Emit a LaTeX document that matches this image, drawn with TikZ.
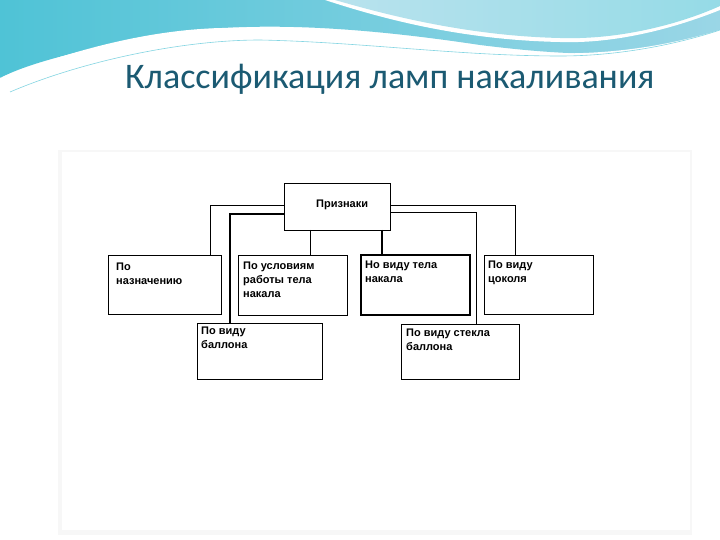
\documentclass[tikz,border=0pt]{standalone}
\usepackage{fontspec}
\setmainfont{Liberation Sans}
\newfontfamily\titlefont{Carlito}
\definecolor{titlec}{HTML}{1B5A72}
\definecolor{waveA}{HTML}{4FC3D6}
\definecolor{waveB}{HTML}{9AD6E6}
\begin{document}
\begin{tikzpicture}[x=1pt,y=-1pt,
  box/.style={draw,line width=0.9pt,fill=white},
  lbl/.style={anchor=north west,font=\bfseries\fontsize{11}{14}\selectfont,align=left,inner sep=0pt},
  link/.style={line width=0.9pt}]
\useasboundingbox (0,0) rectangle (720,540);
\fill[white] (0,0) rectangle (720,540);
\draw[gray!50,line width=1pt] (1,1) rectangle (719,539);
% header waves
\shade[left color=waveA,right color=waveB] (0,0) -- (720,0) -- (720,40) .. controls (640,60) and (560,55) .. (480,45) .. controls (380,30) and (260,18) .. (160,35) .. controls (90,48) and (30,62) .. (0,78) -- cycle;
\fill[white] (325,0) .. controls (380,18) and (460,40) .. (560,42) .. controls (620,44) and (680,26) .. (720,10) -- (720,0) -- cycle;
\shade[left color=waveB!70,right color=waveA!60] (335,0) .. controls (390,16) and (470,36) .. (560,38) .. controls (620,40) and (680,24) .. (720,6) -- (720,0) -- cycle;
\fill[white] (0,78) .. controls (60,55) and (150,26) .. (240,28) .. controls (330,30) and (420,48) .. (540,53) .. controls (620,56) and (680,42) .. (720,30) -- (720,540) -- (0,540) -- cycle;
\draw[waveA!70,line width=0.6pt] (10,92) .. controls (80,62) and (180,40) .. (260,40) .. controls (360,42) and (460,56) .. (560,56) .. controls (630,56) and (690,40) .. (720,30);
\node[anchor=west,text=titlec,font=\titlefont\fontsize{36}{40}\selectfont,inner sep=0pt] (title) at (125,79) {Классификация ламп накаливания};
\fill[gray!6] (58,150) rectangle (692,535);
\fill[white] (62,152) rectangle (690,530);
% boxes
\draw[box] (284,183) rectangle (390,230); \node[lbl] (p) at (316,200) {Признаки};
\draw[box] (108,255) rectangle (221,314); \node[lbl] (a) at (116,263) {По\\назначению};
\draw[box] (238,255) rectangle (347,315); \node[lbl] (b) at (243,262) {По условиям\\работы тела\\накала};
\draw[box,line width=1.5pt] (361,255) rectangle (470,315); \node[lbl] (c) at (365,261) {Но виду тела\\накала};
\draw[box] (484,255) rectangle (593,314); \node[lbl] (d) at (488,261) {По виду\\цоколя};
\draw[box] (197,323) rectangle (322,379); \node[lbl] (e) at (201,327) {По виду\\баллона};
\draw[box] (401,324) rectangle (519,379); \node[lbl] (f) at (406,329) {По виду стекла\\баллона};
% connectors
\draw[link] (284,205) -- (210,205) -- (210,255);
\draw[link,line width=1.3pt] (284,214) -- (230,214) -- (230,323);
\draw[link] (310,230) -- (310,255);
\draw[link,line width=1.5pt] (382,230) -- (382,255);
\draw[link] (390,205) -- (515,205) -- (515,255);
\draw[link] (390,212) -- (476,212) -- (476,324);
\end{tikzpicture}
\end{document}
